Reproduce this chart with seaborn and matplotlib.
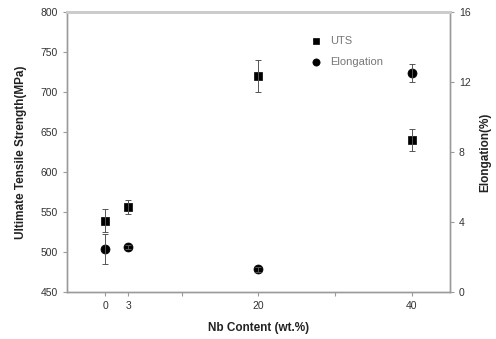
import numpy as np
import matplotlib
matplotlib.use("Agg")
import matplotlib.pyplot as plt
import pandas as pd
import seaborn as sns

# data
nb_content = [0, 3, 20, 40]
uts = [539, 556, 720, 640]
uts_err = [14, 9, 20, 14]
elongation = [2.45, 2.55, 1.30, 12.5]
elong_err = [0.85, 0.12, 0.15, 0.5]

x_ticks = [0, 3, 20, 40]
x_tick_labels = ["0", "3", "20", "40"]
uts_ticks = [450, 500, 550, 600, 650, 700, 750, 800]
elong_ticks = [0, 4, 8, 12, 16]

df = pd.DataFrame({"Nb": nb_content, "UTS": uts, "UTS_err": uts_err,
                   "Elong": elongation, "Elong_err": elong_err})

sns.set_style("ticks")
plt.rcParams['font.family'] = ['Liberation Sans', 'DejaVu Sans']

fig = plt.figure(figsize=(4.96, 3.39), dpi=100)
ax = fig.add_axes([0.135, 0.139, 0.772, 0.826])
ax2 = ax.twinx()

grey = '#9a9a9a'

ax.errorbar(df["Nb"], df["UTS"], yerr=df["UTS_err"], fmt='none', ecolor='#555555',
            elinewidth=0.7, capsize=2, capthick=0.7)
sns.scatterplot(data=df, x="Nb", y="UTS", marker='s', s=38, color='black',
                edgecolor='black', ax=ax, label="UTS", legend=False)
ax2.errorbar(df["Nb"], df["Elong"], yerr=df["Elong_err"], fmt='none', ecolor='#555555',
             elinewidth=0.7, capsize=2, capthick=0.7)
sns.scatterplot(data=df, x="Nb", y="Elong", marker='o', s=42, color='black',
                edgecolor='black', ax=ax2, label="Elongation", legend=False)

ax.set_xlim(-5, 45)
ax.set_ylim(450, 800)
ax2.set_ylim(0, 16)
ax.set_xticks(x_ticks)
ax.set_xticklabels(x_tick_labels)
ax.set_xticks([10, 30], minor=True)
ax.set_yticks(uts_ticks)
ax2.set_yticks(elong_ticks)

for a in (ax, ax2):
    for s in a.spines.values():
        s.set_color(grey)
        s.set_linewidth(1.0)
    a.tick_params(which='both', colors=grey, labelcolor='#333333', labelsize=7.5,
                  length=3, width=0.8)
ax.spines['top'].set_linewidth(2.0)
ax.spines['top'].set_color('#cccccc')
ax2.spines['top'].set_linewidth(2.0)
ax2.spines['top'].set_color('#cccccc')

ax.set_xlabel("Nb Content (wt.%)", fontsize=8.5, fontweight='bold', color='#222222',
              labelpad=8)
ax.set_ylabel("Ultimate Tensile Strength(MPa)", fontsize=8.5, fontweight='bold',
              color='#222222', labelpad=10)
ax2.set_ylabel("Elongation(%)", fontsize=8.5, fontweight='bold', color='#222222',
               labelpad=6)

h1, l1 = ax.get_legend_handles_labels()
h2, l2 = ax2.get_legend_handles_labels()
leg = ax2.legend(h1 + h2, l1 + l2, loc='upper left', bbox_to_anchor=(0.595, 0.95),
                 frameon=False, fontsize=8, handletextpad=0.3, labelspacing=1.0,
                 markerscale=0.8)
for t in leg.get_texts():
    t.set_color('#777777')

fig.savefig("out.png", dpi=100)
